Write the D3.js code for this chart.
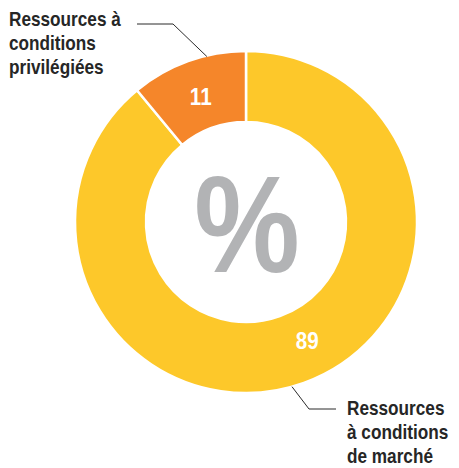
<!DOCTYPE html>
<meta charset="utf-8">
<script src="https://d3js.org/d3.v7.min.js"></script>
<style>
  body { margin: 0; background: #fff; }
  text { font-family: "Liberation Sans", Arial, sans-serif; font-weight: bold; }
</style>
<svg id="chart" width="459" height="468"></svg>
<script>

// Data
var categories = ["Ressources à conditions de marché", "Ressources à conditions privilégiées"];
var values = [89, 11];
var colors = ["#fdc82a", "#f5862a"];
var topLines = ["Ressources à", "conditions", "privilégiées"];
var botLines = ["Ressources", "à conditions", "de marché"];

var svg = d3.select("#chart");
var cx = 246, cy = 222;
var innerR = 100, outerR = 171;
var squeeze = 0.86; // condensed look

var pie = d3.pie().sort(null).value(function (d) { return d; });
var arcs = pie(values);

var arc = d3.arc().innerRadius(innerR).outerRadius(outerR);

var g = svg.append("g").attr("transform", "translate(" + cx + "," + cy + ")");

g.selectAll("path")
  .data(arcs)
  .enter()
  .append("path")
    .attr("d", arc)
    .attr("fill", function (d, i) { return colors[i]; })
    .attr("stroke", "#fff")
    .attr("stroke-width", 2.5);

// value labels inside the ring
var labelShift = [-7.5, 0]; // degrees, nudges the big slice label
g.selectAll("g.val")
  .data(arcs)
  .enter()
  .append("g")
    .attr("class", "val")
    .attr("transform", function (d, i) {
      var a = (d.startAngle + d.endAngle) / 2 + labelShift[i] * Math.PI / 180;
      var r = (innerR + outerR) / 2 - 2;
      return "translate(" + (r * Math.sin(a)) + "," + (-r * Math.cos(a)) + ") scale(" + squeeze + ",1)";
    })
  .append("text")
    .attr("text-anchor", "middle")
    .attr("dy", "0.36em")
    .attr("fill", "#fff")
    .style("font-size", "24px")
    .text(function (d) { return d.data; });

// percent sign
g.append("g")
  .attr("transform", "translate(1,50) scale(" + squeeze + ",1)")
  .append("text")
  .attr("text-anchor", "middle")
  .attr("fill", "#b2b3b5")
  .style("font-size", "138px")
  .text("%");

// leader lines
function edgePoint(deg, r) {
  var a = deg * Math.PI / 180;
  return [cx + r * Math.sin(a), cy - r * Math.cos(a)];
}
var pTop = edgePoint(-13.3, outerR - 1);
var pBot = edgePoint(164.4, outerR);
var line = d3.line();
svg.append("path")
  .attr("d", line([[137, 24], [173, 24], pTop]))
  .attr("fill", "none").attr("stroke", "#2b2b2b").attr("stroke-width", 1);
svg.append("path")
  .attr("d", line([pBot, [309, 409], [336, 409]]))
  .attr("fill", "none").attr("stroke", "#2b2b2b").attr("stroke-width", 1);

// category labels
function block(x, y, lines) {
  svg.append("g")
    .attr("transform", "translate(" + x + "," + y + ") scale(" + squeeze + ",1)")
    .append("text")
    .attr("fill", "#262626")
    .style("font-size", "20px")
    .selectAll("tspan")
    .data(lines)
    .enter()
    .append("tspan")
      .attr("x", 0)
      .attr("dy", function (d, i) { return i ? 23.8 : 0; })
      .text(function (d) { return d; });
}
block(9, 26, topLines);
block(347, 415, botLines);

</script>
